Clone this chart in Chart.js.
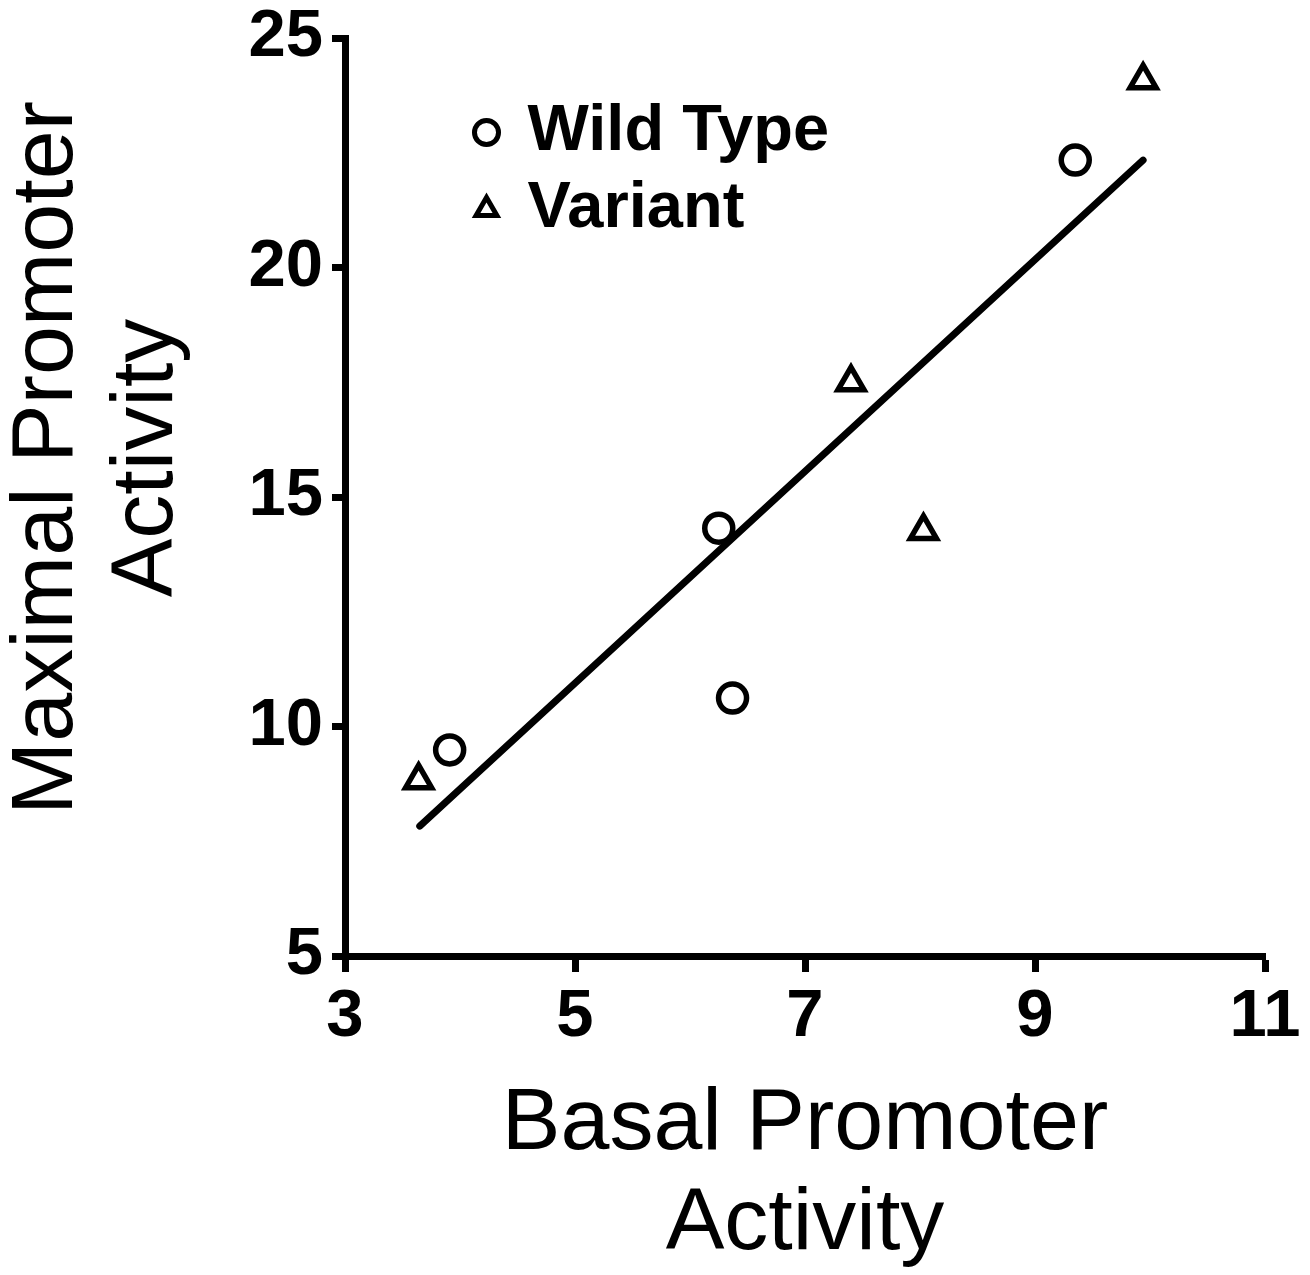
<!doctype html>
<html lang="en">
<head>
<meta charset="UTF-8">
<script src="https://cdn.jsdelivr.net/npm/chart.js@4.4.1/dist/chart.umd.min.js"></script>
<title>Maximal vs Basal Promoter Activity</title>
<style>
    * { margin: 0; padding: 0; box-sizing: border-box; }
    body { background: #fff; }
    #canvas { display: block; }
</style>
</head>
<body>
<canvas id="canvas" width="1310" height="1275"></canvas>
<script>
    // Wild type points
    const wildX = [3.91, 6.25, 6.37, 9.35];
    const wildY = [9.49, 14.32, 10.62, 22.34];
    // Variant points
    const variantX = [3.64, 7.40, 8.03, 9.94];
    const variantY = [8.83, 17.5, 14.26, 24.08];
    // regression line ends
    const fitX = [3.65, 9.94];
    const fitY = [7.83, 22.34];

    const xTicks = [3, 5, 7, 9, 11];
    const yTicks = [5, 10, 15, 20, 25];

    const FONT = "'Liberation Sans', Arial, sans-serif";

    const toPoints = (xs, ys) => xs.map((x, i) => ({x: x, y: ys[i]}));

    // y title drawn by hand so it can sit where the original puts it
    const yTitle = {
        id: 'yTitle',
        afterDraw(chart) {
            const ctx = chart.ctx;
            ctx.save();
            ctx.translate(48, 458);
            ctx.rotate(-Math.PI / 2);
            ctx.font = '88px ' + FONT;
            ctx.fillStyle = '#000';
            ctx.textAlign = 'center';
            ctx.textBaseline = 'middle';
            ctx.fillText('Maximal Promoter', 0, 0);
            ctx.fillText('Activity', 0, 100);
            ctx.restore();
        }
    };

    // move the legend box off the top-left corner of the plot area
    const legendShift = {
        id: 'legendShift',
        afterLayout(chart) {
            const lg = chart.legend;
            lg.left += 121;
            lg.right += 121;
            lg.top += 88;
            lg.bottom += 88;
        }
    };

    const ctx = document.getElementById('canvas').getContext('2d');
    new Chart(ctx, {
        type: 'scatter',
        data: {
            datasets: [
                {
                    label: 'Wild Type',
                    data: toPoints(wildX, wildY),
                    pointStyle: 'circle',
                    pointRadius: 14,
                    pointBorderWidth: 5.5,
                    borderColor: '#000',
                    backgroundColor: '#fff',
                },
                {
                    label: 'Variant',
                    data: toPoints(variantX, variantY),
                    pointStyle: 'triangle',
                    pointRadius: 15,
                    pointBorderWidth: 5.5,
                    borderColor: '#000',
                    backgroundColor: '#fff',
                },
                {
                    label: 'fit',
                    data: toPoints(fitX, fitY),
                    showLine: true,
                    pointRadius: 0,
                    borderColor: '#000',
                    borderWidth: 7,
                    borderCapStyle: 'round',
                },
            ],
        },
        options: {
            responsive: false,
            animation: false,
            events: [],
            layout: {
                padding: {left: 0, right: 45, top: 38, bottom: 0},
            },
            scales: {
                x: {
                    type: 'linear',
                    min: 3,
                    max: 11,
                    afterBuildTicks: (s) => { s.ticks = xTicks.map(v => ({value: v})); },
                    afterFit: (s) => { s.height = 319; s.paddingLeft = 0; s.paddingRight = 0; },
                    border: {display: true, color: '#000', width: 7},
                    grid: {drawOnChartArea: false, drawTicks: true, tickLength: 16, tickWidth: 7, tickColor: '#000'},
                    ticks: {
                        color: '#000',
                        padding: 5,
                        maxRotation: 0,
                        font: {family: FONT, size: 67, weight: 'bold'},
                    },
                    title: {
                        display: true,
                        text: ['Basal Promoter', 'Activity'],
                        color: '#000',
                        padding: 0,
                        font: {family: FONT, size: 88, lineHeight: 100 / 88},
                    },
                },
                y: {
                    type: 'linear',
                    min: 5,
                    max: 25,
                    afterBuildTicks: (s) => { s.ticks = yTicks.map(v => ({value: v})); },
                    afterFit: (s) => { s.width = 345; s.paddingTop = 0; s.paddingBottom = 0; },
                    border: {display: true, color: '#000', width: 7},
                    grid: {drawOnChartArea: false, drawTicks: true, tickLength: 13, tickWidth: 7, tickColor: '#000'},
                    ticks: {
                        color: '#000',
                        padding: 9,
                        font: {family: FONT, size: 67, weight: 'bold'},
                    },
                },
            },
            plugins: {
                tooltip: {enabled: false},
                legend: {
                    position: 'chartArea',
                    align: 'start',
                    labels: {
                        usePointStyle: true,
                        boxHeight: 17,
                        boxWidth: 17,
                        padding: 12,
                        color: '#000',
                        font: {family: FONT, size: 65, weight: 'bold'},
                        filter: (item) => item.text !== 'fit',
                        generateLabels: (chart) => {
                            const items = Chart.defaults.plugins.legend.labels.generateLabels(chart);
                            items.forEach(it => { it.lineWidth = 5; });
                            return items;
                        },
                    },
                },
            },
        },
        plugins: [yTitle, legendShift],
    });
</script>
</body>
</html>
